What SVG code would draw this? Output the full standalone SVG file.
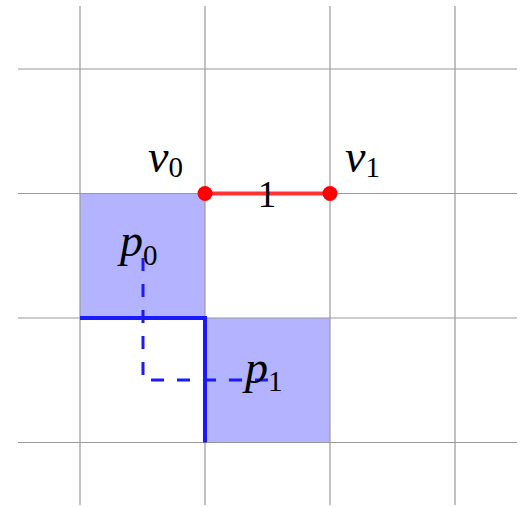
<svg xmlns="http://www.w3.org/2000/svg" width="524" height="507" viewBox="0 0 524 507">
<style>
.grid{stroke:#999;stroke-width:1.2;fill:none}
.cell{fill:#b3b3ff}
.m{font-family:"Liberation Serif","DejaVu Serif",serif;font-style:italic;font-size:46px;fill:#000}
.sub{font-style:normal;font-size:29px}
.num{font-family:"Liberation Serif","DejaVu Serif",serif;font-size:37px;fill:#000}
</style>
<rect width="524" height="507" fill="#fff"/>
<g id="cells">
<rect id="cell-p0" class="cell" x="80" y="193.5" width="125" height="124.5"/>
<rect id="cell-p1" class="cell" x="205" y="318" width="125" height="124.5"/>
</g>
<g id="grid" class="grid">
<line x1="80" y1="6" x2="80" y2="505"/>
<line x1="205" y1="6" x2="205" y2="505"/>
<line x1="330" y1="6" x2="330" y2="505"/>
<line x1="455" y1="6" x2="455" y2="505"/>
<line x1="18" y1="69" x2="517" y2="69"/>
<line x1="18" y1="193.5" x2="517" y2="193.5"/>
<line x1="18" y1="318" x2="517" y2="318"/>
<line x1="18" y1="442.5" x2="517" y2="442.5"/>
</g>
<g id="connectors">
<path d="M80 318H205V442.5" fill="none" stroke="#1a1aff" stroke-width="4"/>
<path d="M143 258V380H268" fill="none" stroke="#1a1aff" stroke-width="3" stroke-dasharray="13 13"/>
<line x1="205" y1="193.5" x2="330" y2="193.5" stroke="#ff3333" stroke-width="4"/>
</g>
<g id="v0">
<circle cx="205" cy="193.5" r="7.5" fill="#ff0000"/>
<text class="m" x="148" y="172">v<tspan class="sub" dy="5">0</tspan></text>
</g>
<g id="v1">
<circle cx="330" cy="193.5" r="7.5" fill="#ff0000"/>
<text class="m" x="345" y="172">v<tspan class="sub" dy="5">1</tspan></text>
</g>
<g id="edge-label">
<text class="num" x="267" y="207" text-anchor="middle">1</text>
</g>
<g id="p0">
<text class="m" x="120" y="256">p<tspan class="sub" dy="9">0</tspan></text>
</g>
<g id="p1">
<text class="m" x="245" y="383">p<tspan class="sub" dy="8">1</tspan></text>
</g>
</svg>
